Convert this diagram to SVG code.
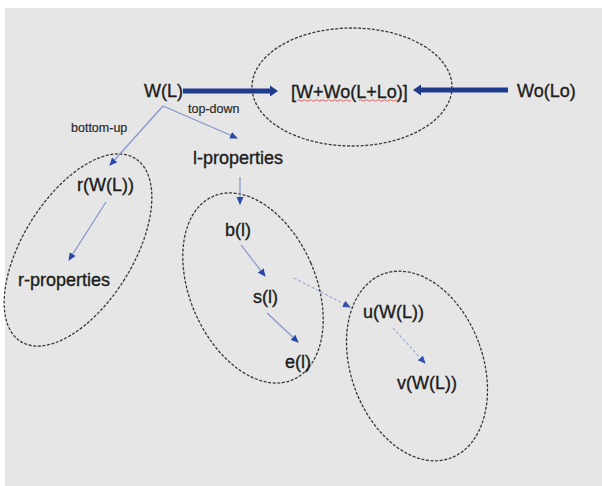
<svg xmlns="http://www.w3.org/2000/svg" width="602" height="486" viewBox="0 0 602 486">
  <defs>
    <marker id="tip" viewBox="0 0 8 8" refX="7" refY="4" markerWidth="8" markerHeight="8" markerUnits="userSpaceOnUse" orient="auto">
      <path d="M0,0.5 L8,4 L0,7.5 Z" fill="#2b47a6"/>
    </marker>
    <marker id="tipPale" viewBox="0 0 8 8" refX="7" refY="4" markerWidth="8" markerHeight="8" markerUnits="userSpaceOnUse" orient="auto">
      <path d="M0,0.5 L8,4 L0,7.5 Z" fill="#3552b0"/>
    </marker>
  </defs>
  <style>
    .lbl { font-family: "Liberation Sans", Arial, sans-serif; font-size: 18px; fill: #1c1c1c; stroke: #1c1c1c; stroke-width: 0.35; }
    .small { font-family: "Liberation Sans", Arial, sans-serif; font-size: 12.5px; fill: #2a2a2a; stroke: #2a2a2a; stroke-width: 0.2; }
    .group { fill: none; stroke: #3a3a3a; stroke-width: 1.3; stroke-dasharray: 3 1.6; }
    .thin { fill: none; stroke: #8395cc; stroke-width: 1.2; marker-end: url(#tip); }
    .dotted { fill: none; stroke: #9aa8d4; stroke-width: 1.1; stroke-dasharray: 3 2; marker-end: url(#tipPale); }
    .bold { stroke: #1f3b8e; stroke-width: 5; fill: none; }
    .boldhead { fill: #1f3b8e; }
    .squiggle { fill: none; stroke: #d9534f; stroke-width: 0.9; }
  </style>

  <!-- page -->
  <rect x="0" y="0" width="602" height="486" fill="#ffffff"/>
  <rect x="5" y="8" width="597" height="478" fill="#e6e6e6"/>

  <!-- group outlines -->
  <g id="groups">
    <ellipse class="group" cx="352" cy="87" rx="100" ry="59"/>
    <ellipse class="group" cx="0" cy="0" rx="55" ry="108" transform="translate(78 250) rotate(32)"/>
    <ellipse class="group" cx="0" cy="0" rx="63" ry="100" transform="translate(253 288) rotate(-23.5)"/>
    <ellipse class="group" cx="0" cy="0" rx="66" ry="98" transform="translate(417 366) rotate(-20)"/>
  </g>

  <!-- connectors -->
  <g id="connectors">
    <line class="bold" x1="183" y1="91" x2="271" y2="91"/>
    <polygon class="boldhead" points="278,91 270,85.5 270,96.5"/>
    <line class="bold" x1="508" y1="90" x2="420" y2="90"/>
    <polygon class="boldhead" points="413,90 421,84.5 421,95.5"/>

    <line class="thin" x1="163" y1="106" x2="110" y2="165"/>
    <line class="thin" x1="163" y1="106" x2="237" y2="138"/>
    <line class="thin" x1="106" y1="202" x2="69" y2="260"/>
    <line class="thin" x1="240" y1="177" x2="240" y2="204"/>
    <line class="thin" x1="241" y1="245" x2="265" y2="276"/>
    <line class="thin" x1="267" y1="313" x2="298" y2="342"/>
    <line class="dotted" x1="294" y1="278" x2="350" y2="307"/>
    <line class="dotted" x1="393" y1="328" x2="425" y2="363"/>
  </g>

  <!-- edge labels -->
  <g id="edge-labels">
    <text class="small" x="188" y="113">top-down</text>
    <text class="small" x="71" y="132">bottom-up</text>
  </g>

  <!-- nodes -->
  <g id="n-wl"><text class="lbl" x="144" y="97">W(L)</text></g>
  <g id="n-combined">
    <text class="lbl" x="291" y="98">[W+Wo(L+Lo)]</text>
    <path class="squiggle" d="M297,100.5 q1.5,-1.5 3,0 t3,0 t3,0 t3,0 t3,0 t3,0 t3,0 t3,0 t3,0 t3,0 t3,0 t3,0 t3,0 t3,0 t3,0 t3,0 t3,0 t3,0"/>
    <path class="squiggle" d="M359,100.5 q1.5,-1.5 3,0 t3,0 t3,0 t3,0 t3,0 t3,0 t3,0 t3,0 t3,0 t3,0 t3,0 t3,0 t3,0"/>
  </g>
  <g id="n-wolo"><text class="lbl" x="517" y="97">Wo(Lo)</text></g>
  <g id="n-lprops"><text class="lbl" x="193" y="164">l-properties</text></g>
  <g id="n-rwl"><text class="lbl" x="77" y="191">r(W(L))</text></g>
  <g id="n-rprops"><text class="lbl" x="18" y="286">r-properties</text></g>
  <g id="n-b"><text class="lbl" x="225" y="236">b(l)</text></g>
  <g id="n-s"><text class="lbl" x="253" y="303">s(l)</text></g>
  <g id="n-e"><text class="lbl" x="285" y="368">e(l)</text></g>
  <g id="n-u"><text class="lbl" x="363" y="318">u(W(L))</text></g>
  <g id="n-v"><text class="lbl" x="397" y="389">v(W(L))</text></g>
</svg>
